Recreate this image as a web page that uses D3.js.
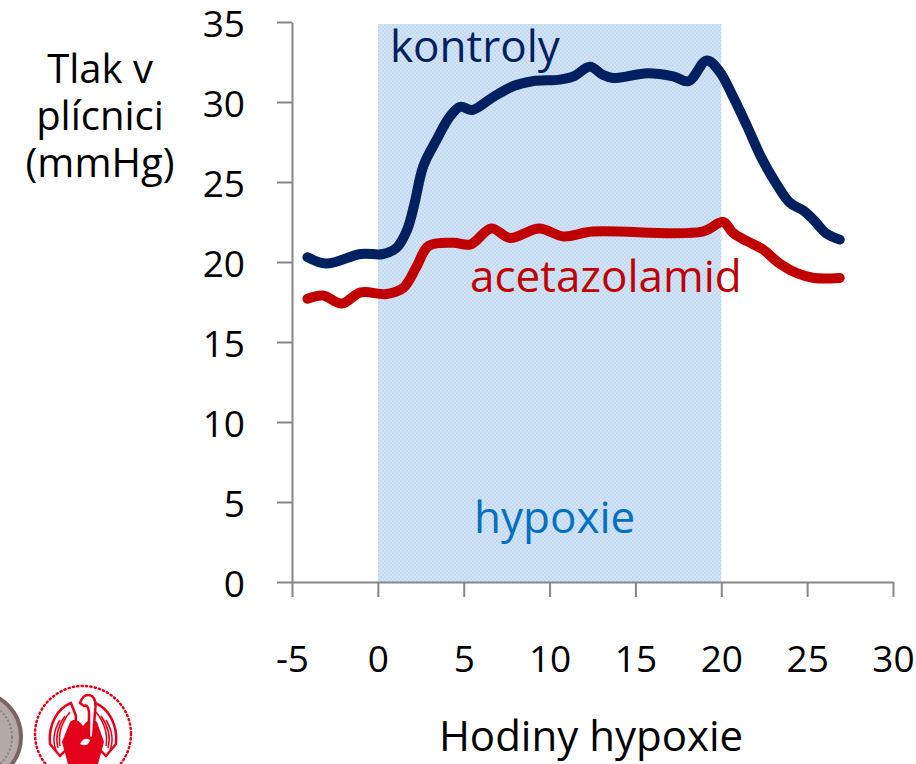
<!DOCTYPE html>
<html>
<head>
<meta charset="utf-8">
<script src="https://cdn.jsdelivr.net/npm/d3@7"></script>
<style>
  html, body { margin: 0; padding: 0; background: #fff; }
  text { font-family: "Open Sans", "Noto Sans", sans-serif; }
</style>
</head>
<body>
<script>
// hodiny hypoxie / tlak v plicnici (mmHg)
const kontrolyHours = [-4.1, -3.0, -1.0, 0.3, 1.1, 1.7, 2.1, 2.65, 3.4, 4.2, 4.8, 5.5, 6.7, 7.9, 9.0, 10.6, 11.4, 12.35, 13.1, 13.7, 15.7, 17.2, 18.1, 19.15, 19.9, 20.7, 21.5, 22.3, 23.2, 24.0, 24.8, 25.4, 26.1, 26.9];
const kontroly = [20.3, 19.9, 20.5, 20.5, 20.9, 22.0, 23.5, 26.0, 27.6, 29.1, 29.7, 29.5, 30.3, 31.0, 31.3, 31.4, 31.6, 32.2, 31.7, 31.5, 31.8, 31.6, 31.3, 32.6, 31.9, 30.3, 28.5, 26.6, 24.9, 23.7, 23.2, 22.6, 21.8, 21.4];

const acetazolamidHours = [-4.1, -3.2, -2.1, -1.0, 0.5, 1.5, 2.25, 2.95, 4.4, 5.4, 6.6, 7.7, 9.4, 10.8, 12.5, 18.9, 20.1, 20.7, 21.5, 22.4, 23.4, 24.4, 25.4, 26.9];
const acetazolamid = [17.7, 17.9, 17.4, 18.1, 18.0, 18.4, 19.7, 21.0, 21.2, 21.1, 22.1, 21.5, 22.1, 21.6, 21.9, 21.9, 22.5, 21.8, 21.3, 20.8, 19.9, 19.3, 19.0, 19.0];

const hypoxiaWindow = [0, 20];
const xTicks = [-5, 0, 5, 10, 15, 20, 25, 30];
const yTicks = [0, 5, 10, 15, 20, 25, 30, 35];

const W = 916, H = 764;
const svg = d3.select('body').append('svg')
  .attr('width', W)
  .attr('height', H);

const x = d3.scaleLinear().domain([-5, 30]).range([292, 893]);
const y = d3.scaleLinear().domain([0, 35]).range([582, 22]);

// checkered light blue fill for the hypoxia band
const pat = svg.append('defs').append('pattern')
  .attr('id', 'chk')
  .attr('width', 4).attr('height', 4)
  .attr('patternUnits', 'userSpaceOnUse');
pat.append('rect').attr('width', 4).attr('height', 4).attr('fill', '#d3e4f7');
pat.append('rect').attr('width', 2).attr('height', 2).attr('fill', '#c3d9f1');
pat.append('rect').attr('x', 2).attr('y', 2).attr('width', 2).attr('height', 2).attr('fill', '#c3d9f1');

svg.append('rect')
  .attr('x', x(hypoxiaWindow[0]))
  .attr('y', y(35) + 2)
  .attr('width', x(hypoxiaWindow[1]) - x(hypoxiaWindow[0]))
  .attr('height', y(0) - y(35) - 2)
  .attr('fill', 'url(#chk)');

// axes
const axisColor = '#878787';
const fmt = d => String(d); // plain hyphen, as in the original
const gy = svg.append('g')
  .attr('transform', `translate(${x(-5)},0)`)
  .call(d3.axisLeft(y).tickValues(yTicks).tickFormat(fmt).tickSize(15).tickPadding(32).tickSizeOuter(0));
gy.selectAll('text').attr('dy', null).attr('y', 14);

const gx = svg.append('g')
  .attr('transform', `translate(0,${y(0)})`)
  .call(d3.axisBottom(x).tickValues(xTicks).tickFormat(fmt).tickSize(15).tickSizeOuter(0));
gx.selectAll('text').attr('dy', null).attr('y', 90);

svg.selectAll('.domain, .tick line')
  .attr('stroke', axisColor)
  .attr('stroke-width', 2);
svg.selectAll('.tick text')
  .attr('fill', '#000')
  .style('font-size', '37px')
  .style('font-family', '"Open Sans", sans-serif');

// series lines
const line = d3.line()
  .x(d => x(d[0]))
  .y(d => y(d[1]))
  .curve(d3.curveCatmullRom.alpha(0.5));

svg.append('path')
  .datum(acetazolamidHours.map((h, i) => [h, acetazolamid[i]]))
  .attr('d', line)
  .attr('fill', 'none')
  .attr('stroke', '#c00000')
  .attr('stroke-width', 10)
  .attr('stroke-linecap', 'round')
  .attr('stroke-linejoin', 'round');

svg.append('path')
  .datum(kontrolyHours.map((h, i) => [h, kontroly[i]]))
  .attr('d', line)
  .attr('fill', 'none')
  .attr('stroke', '#002060')
  .attr('stroke-width', 10)
  .attr('stroke-linecap', 'round')
  .attr('stroke-linejoin', 'round');

// labels
svg.append('text').attr('x', 390).attr('y', 62)
  .attr('fill', '#002060').style('font-size', '44px').text('kontroly');
svg.append('text').attr('x', 470).attr('y', 292)
  .attr('fill', '#c00000').style('font-size', '44px').text('acetazolamid');
svg.append('text').attr('x', 474).attr('y', 533)
  .attr('fill', '#0070c0').style('font-size', '44px').text('hypoxie');

svg.append('text').attr('x', 591).attr('y', 751)
  .attr('text-anchor', 'middle').attr('fill', '#000')
  .style('font-size', '42px').text('Hodiny hypoxie');

['Tlak v', 'plícnici', '(mmHg)'].forEach((s, i) => {
  svg.append('text').attr('text-anchor', 'middle')
    .attr('fill', '#000').style('font-size', '40px')
    .attr('x', 100).attr('y', 83 + i * 47).text(s);
});

// logos in the lower left corner (rough)
const logo = svg.append('g');
logo.append('circle').attr('cx', -24).attr('cy', 737).attr('r', 45)
  .attr('fill', '#b3a9a6').attr('stroke', '#7a6563').attr('stroke-width', 4);
logo.append('circle').attr('cx', -24).attr('cy', 737).attr('r', 36)
  .attr('fill', 'none').attr('stroke', '#8d7e7b').attr('stroke-width', 2).attr('stroke-dasharray', '2 2');

const red = '#e2001a';
logo.append('circle').attr('cx', 83).attr('cy', 734).attr('r', 48)
  .attr('fill', 'none').attr('stroke', red).attr('stroke-width', 2.5)
  .attr('stroke-dasharray', '1.2 3.2').attr('stroke-linecap', 'round');
// wings
[[1, 0], [-1, 166]].forEach(([s, t]) => {
  const w = logo.append('g').attr('transform', `translate(${t},0) scale(${s},1)`);
  w.append('path')
    .attr('d', 'M71,703 C58,708 48,724 50,744 L60,756 L74,742 L76,716 Z')
    .attr('fill', '#fff').attr('stroke', red).attr('stroke-width', 2.5);
  [0, 1, 2].forEach(k => {
    w.append('path')
      .attr('d', `M${70 - k * 5},${712 + k * 4} C${62 - k * 4},${722 + k * 4} ${58 - k * 3},${734 + k * 3} ${60 - k * 2},${746 + k * 2}`)
      .attr('fill', 'none').attr('stroke', red).attr('stroke-width', 1.5);
  });
});
// body
logo.append('path')
  .attr('d', 'M70,722 Q76,716 83,726 Q90,716 97,722 L104,742 L98,764 L68,764 L62,742 Z')
  .attr('fill', red);
// neck and beak
logo.append('path')
  .attr('d', 'M80,703 Q84,692 92,696 Q97,700 95,712 L93,738 L89,738 L89,712 Q88,704 84,706 Z')
  .attr('fill', '#fff').attr('stroke', red).attr('stroke-width', 2.5);
logo.append('path')
  .attr('d', 'M80,744 Q84,736 90,740 Q88,748 80,744 Z')
  .attr('fill', '#fff');
</script>
</body>
</html>
